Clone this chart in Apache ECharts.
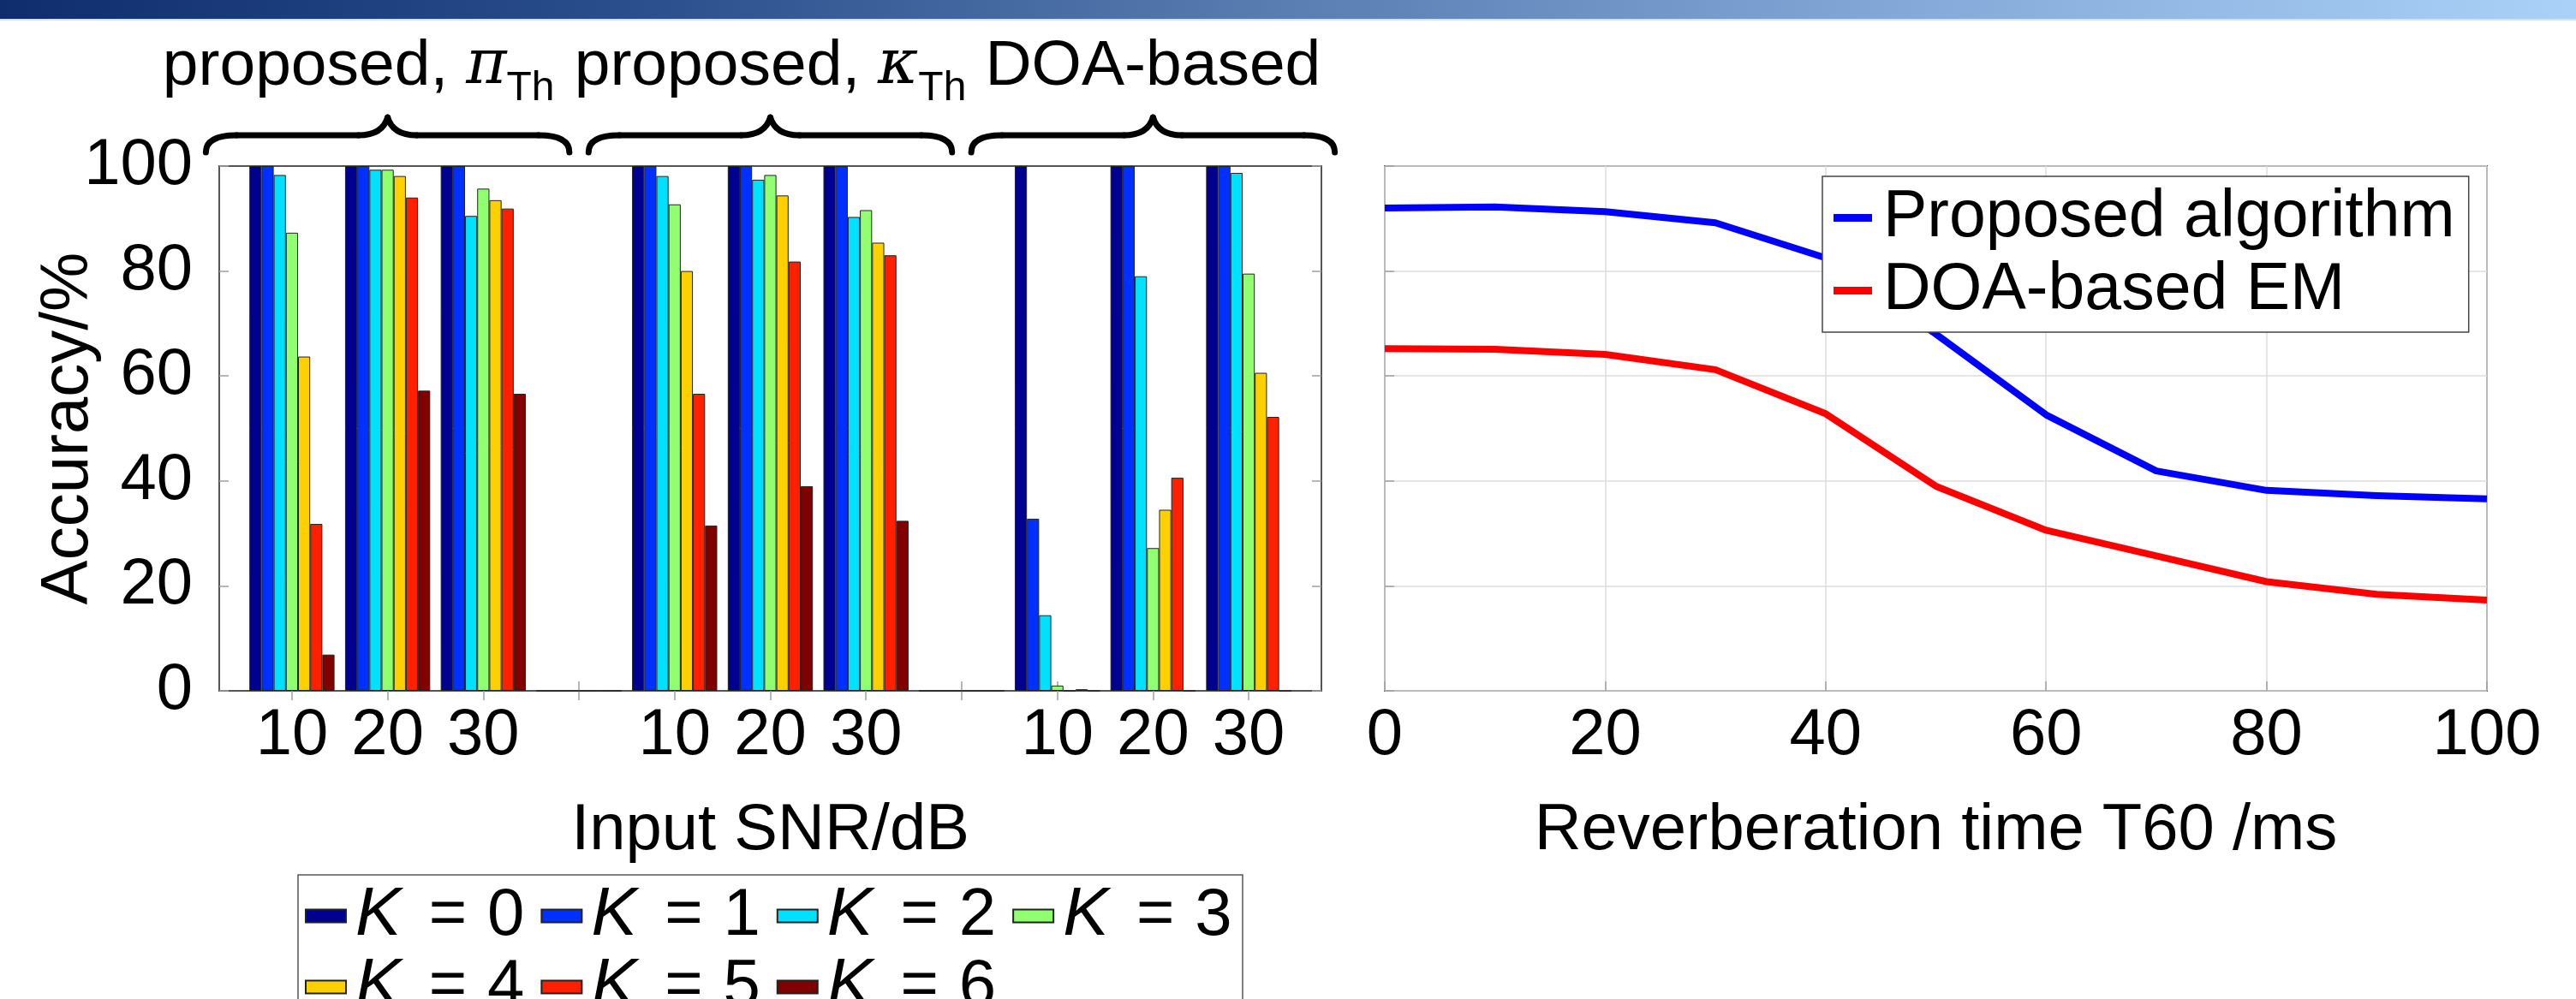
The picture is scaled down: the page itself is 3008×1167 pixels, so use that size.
<!DOCTYPE html>
<html><head><meta charset="utf-8">
<script src="https://cdn.jsdelivr.net/npm/echarts@6/dist/echarts.min.js"></script>
<style>html,body{margin:0;padding:0;background:#fff}#c{width:3008px;height:1167px}</style>
</head><body><div id="c"></div>
<script>
// ---------- data ----------
const methodLabels = ['proposed, ', 'proposed, ', 'DOA-based'];
const methodSymbols = ['π', 'κ', ''];
const slotLabels = ['10', '20', '30', '', '10', '20', '30', '', '10', '20', '30'];
const kNames = ['K = 0', 'K = 1', 'K = 2', 'K = 3', 'K = 4', 'K = 5', 'K = 6'];
// accuracy (%) per slot: [π: 10,20,30], empty, [κ: 10,20,30], empty, [DOA: 10,20,30]
const acc_K0 = [100, 100, 100, 0, 100, 100, 100, 0, 100, 100, 100];
const acc_K1 = [100, 100, 100, 0, 100, 100, 100, 0, 32.8, 100, 100];
const acc_K2 = [98.3, 99.3, 90.5, 0, 98.1, 97.4, 90.3, 0, 14.4, 79.0, 98.7];
const acc_K3 = [87.3, 99.3, 95.7, 0, 92.7, 98.3, 91.6, 0, 1.0, 27.2, 79.5];
const acc_K4 = [63.7, 98.1, 93.5, 0, 80.0, 94.4, 85.4, 0, 0, 34.5, 60.6];
const acc_K5 = [31.8, 94.0, 91.9, 0, 56.6, 81.8, 83.0, 0, 0.3, 40.6, 52.2];
const acc_K6 = [6.9, 57.2, 56.6, 0, 31.5, 39.0, 32.4, 0, 0, 0, 0];
const t60 = [0, 10, 20, 30, 40, 50, 60, 70, 80, 90, 100];
const proposedAlg = [92.0, 92.2, 91.3, 89.2, 82.5, 68.0, 52.6, 41.9, 38.2, 37.2, 36.6];
const doaEM = [65.2, 65.1, 64.1, 61.2, 52.8, 39.0, 30.6, 25.7, 20.8, 18.4, 17.3];
const lineNames = ['Proposed algorithm', 'DOA-based EM'];

// ---------- style ----------
const FONT = '"Liberation Sans", Arial, Helvetica, sans-serif';
const barColors = ['#000090', '#0030ff', '#00e0ff', '#90ff70', '#ffd000', '#ff2000', '#800000'];
const accByK = [acc_K0, acc_K1, acc_K2, acc_K3, acc_K4, acc_K5, acc_K6];
const slotPos = slotLabels.map((_, i) => i + 1);
const labelPos = slotPos.filter((p, i) => slotLabels[i] !== '');

const chart = echarts.init(document.getElementById('c'));

const barSeries = accByK.map((arr, i) => ({
  name: kNames[i], type: 'bar', xAxisIndex: 0, yAxisIndex: 0,
  data: arr.map((v, j) => [slotPos[j], v]),
  barWidth: 14.2, barGap: '0%',
  itemStyle: { color: barColors[i], borderColor: '#222', borderWidth: 1 },
  emphasis: { disabled: true }
}));
const lineSeries = [proposedAlg, doaEM].map((arr, i) => ({
  name: lineNames[i], type: 'line', xAxisIndex: 2, yAxisIndex: 2,
  data: arr.map((v, j) => [t60[j], v]),
  showSymbol: false, symbol: 'none',
  lineStyle: { width: 8, color: i === 0 ? '#0000ff' : '#ff0000', join: 'round' },
  itemStyle: { color: i === 0 ? '#0000ff' : '#ff0000' },
  emphasis: { disabled: true }
}));

const tickStyle = { show: true, inside: true, length: 11, lineStyle: { color: '#a0a0a0', width: 1.5 } };

const kLegendBase = {
  orient: 'horizontal', left: 356, itemGap: 19, itemWidth: 47, itemHeight: 15, icon: 'rect',
  padding: 0, selectedMode: false,
  formatter: n => '{k|K}{e|=}{n|' + n.slice(-1) + '}',
  textStyle: { fontSize: 76, color: '#000', fontFamily: FONT,
    rich: {
      k: { fontSize: 80, fontStyle: 'italic', fontFamily: FONT, color: '#000', width: 62, padding: [0, 0, 0, 6] },
      e: { fontSize: 76, fontFamily: FONT, color: '#000', width: 92, align: 'center' },
      n: { fontSize: 78, fontFamily: FONT, color: '#000' }
    } }
};

chart.setOption({
  animation: false,
  backgroundColor: '#fff',
  textStyle: { fontFamily: FONT },
  grid: [
    { left: 256, right: 3008 - 1543, top: 194, bottom: 1167 - 807, show: true, borderColor: '#555', borderWidth: 2, backgroundColor: '#fff' },
    { left: 1617, right: 3008 - 2904, top: 194, bottom: 1167 - 807, show: true, borderColor: '#555', borderWidth: 2, backgroundColor: '#fff' }
  ],
  xAxis: [
    { gridIndex: 0, type: 'value', min: 0.24, max: 11.76, position: 'bottom',
      axisLine: { show: false }, splitLine: { show: false },
      axisTick: Object.assign({ customValues: slotPos }, tickStyle),
      axisLabel: { customValues: labelPos, formatter: v => slotLabels[Math.round(v) - 1], fontSize: 76, color: '#000', lineHeight: 76, margin: 15, fontFamily: FONT },
      name: 'Input SNR/dB', nameLocation: 'middle', nameGap: 126,
      nameTextStyle: { fontSize: 76, color: '#000', lineHeight: 76, fontFamily: FONT } },
    { gridIndex: 0, type: 'value', min: 0.24, max: 11.76, position: 'top',
      axisLine: { show: false }, splitLine: { show: false },
      axisTick: Object.assign({ customValues: slotPos }, tickStyle),
      axisLabel: { show: false } },
    { gridIndex: 1, type: 'value', min: 0, max: 100, interval: 20, position: 'bottom',
      axisLine: { show: false },
      splitLine: { show: true, lineStyle: { color: '#dcdcdc', width: 1.5 } },
      axisTick: tickStyle,
      axisLabel: { fontSize: 76, color: '#000', lineHeight: 76, margin: 15, fontFamily: FONT, showMinLabel: true, showMaxLabel: true },
      name: 'Reverberation time T60 /ms', nameLocation: 'middle', nameGap: 126,
      nameTextStyle: { fontSize: 76, color: '#000', lineHeight: 76, fontFamily: FONT } }
  ],
  yAxis: [
    { gridIndex: 0, type: 'value', min: 0, max: 100, interval: 20, position: 'left',
      axisLine: { show: false }, splitLine: { show: false }, axisTick: tickStyle,
      axisLabel: { fontSize: 76, color: '#000', margin: 31, fontFamily: FONT },
      name: 'Accuracy/%', nameLocation: 'middle', nameGap: 137, nameRotate: 90, nameMoveOverlap: false,
      nameTextStyle: { fontSize: 78, color: '#000', lineHeight: 78, fontFamily: FONT } },
    { gridIndex: 0, type: 'value', min: 0, max: 100, interval: 20, position: 'right',
      axisLine: { show: false }, splitLine: { show: false }, axisTick: tickStyle,
      axisLabel: { show: false } },
    { gridIndex: 1, type: 'value', min: 0, max: 100, interval: 20, position: 'left',
      axisLine: { show: false },
      splitLine: { show: true, lineStyle: { color: '#dcdcdc', width: 1.5 } },
      axisTick: tickStyle, axisLabel: { show: false } }
  ],
  legend: [
    Object.assign({ data: kNames.slice(0, 4), top: 1030 }, kLegendBase),
    Object.assign({ data: kNames.slice(4), top: 1113 }, kLegendBase),
    { data: lineNames, orient: 'vertical', left: 2128, top: 206,
      padding: [10, 16, 10, 13], itemGap: 8, itemWidth: 45, itemHeight: 9, icon: 'rect',
      backgroundColor: '#fff', borderColor: '#444', borderWidth: 1.5,
      selectedMode: false,
      textStyle: { fontSize: 77, lineHeight: 70, color: '#000', fontFamily: FONT, padding: [0, 0, 0, 8] } }
  ],
  series: barSeries.concat(lineSeries)
});

// ---------- annotations (header bar, legend frame, braces, group titles) ----------
const graphics = [
  { type: 'rect', shape: { x: 0, y: 0, width: 3008, height: 22 }, silent: true,
    style: { fill: { type: 'linear', x: 0, y: 0, x2: 1, y2: 0, global: false, colorStops: [
      { offset: 0, color: '#0f2d6c' }, { offset: 0.25, color: '#2b4f8c' },
      { offset: 0.5, color: '#5a7db2' }, { offset: 0.75, color: '#86aad9' },
      { offset: 1, color: '#aad2f8' }] } } },
  { type: 'rect', shape: { x: 0, y: 22, width: 3008, height: 2 }, silent: true, style: { fill: '#d2e2f2' } },
  { type: 'rect', shape: { x: 348, y: 1022, width: 1103, height: 200 }, z: -1, silent: true,
    style: { fill: '#fff', stroke: '#555', lineWidth: 1.5 } }
];
const braceStyle = { fill: null, stroke: '#000', lineWidth: 7, lineCap: 'round' };
function pushBrace(x1, x2, yTip, yBar, yEnd) {
  const xm = (x1 + x2) / 2, r = 36, rt = 34;
  graphics.push(
    { type: 'bezierCurve', shape: { x1: x1, y1: yEnd, cpx1: x1, cpy1: yBar, x2: x1 + r, y2: yBar }, style: braceStyle },
    { type: 'line', shape: { x1: x1 + r, y1: yBar, x2: xm - rt, y2: yBar }, style: braceStyle },
    { type: 'bezierCurve', shape: { x1: xm - rt, y1: yBar, cpx1: xm - 6, cpy1: yBar, x2: xm, y2: yTip }, style: braceStyle },
    { type: 'bezierCurve', shape: { x1: xm, y1: yTip, cpx1: xm + 6, cpy1: yBar, x2: xm + rt, y2: yBar }, style: braceStyle },
    { type: 'line', shape: { x1: xm + rt, y1: yBar, x2: x2 - r, y2: yBar }, style: braceStyle },
    { type: 'bezierCurve', shape: { x1: x2 - r, y1: yBar, cpx1: x2, cpy1: yBar, x2: x2, y2: yEnd }, style: braceStyle }
  );
}
const titleShift = [-34, 0, 0];
for (let g = 0; g < 3; g++) {
  const first = slotPos[g * 4], last = slotPos[g * 4 + 2];
  const x1 = chart.convertToPixel({ xAxisIndex: 0 }, first - 0.9);
  const x2 = chart.convertToPixel({ xAxisIndex: 0 }, last + 0.9);
  pushBrace(x1, x2, 137, 158, 178);
  const txt = methodSymbols[g]
    ? '{p|' + methodLabels[g] + '}{g|' + methodSymbols[g] + '}{s|Th}'
    : '{p|' + methodLabels[g] + '}';
  graphics.push({ type: 'text', x: (x1 + x2) / 2 + titleShift[g], y: 78,
    style: { text: txt, align: 'center', verticalAlign: 'middle',
      rich: {
        p: { fontSize: 75, fontFamily: FONT, fill: '#000', lineHeight: 100 },
        g: { fontSize: 72, fontFamily: '"DejaVu Serif", serif', fontStyle: 'italic', fill: '#000', lineHeight: 100 },
        s: { fontSize: 48, fontFamily: FONT, fill: '#000', lineHeight: 48, verticalAlign: 'bottom' }
      } } });
}
chart.setOption({ graphic: graphics });
</script>
</body></html>
